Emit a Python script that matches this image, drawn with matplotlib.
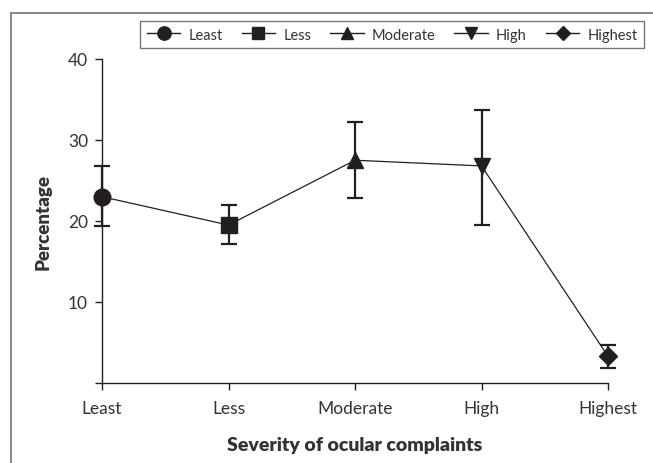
import matplotlib
matplotlib.use("Agg")
import matplotlib.pyplot as plt
from matplotlib.lines import Line2D

categories = ["Least", "Less", "Moderate", "High", "Highest"]
values = [23.0, 19.5, 27.5, 26.8, 3.3]
err_low = [19.4, 17.1, 22.8, 19.5, 1.9]
err_high = [26.8, 22.0, 32.2, 33.7, 4.7]
markers = ["o", "s", "^", "v", "D"]
msizes = [12, 11, 11, 11, 9]
yticks = [0, 10, 20, 30, 40]
ytick_labels = ["", "10", "20", "30", "40"]

plt.rcParams['font.family'] = ['Lato', 'DejaVu Sans']
ink = "#231f20"
txt = "#333333"

fig = plt.figure(figsize=(6.53, 4.64), dpi=100)
ax = fig.add_axes([102/653, 1-384/464, (608-102)/653, (384-60)/464])

x = list(range(len(categories)))
ax.plot(x, values, color=ink, lw=0.9, zorder=2)
for i in x:
    ax.errorbar([i], [values[i]],
                yerr=[[values[i]-err_low[i]], [err_high[i]-values[i]]],
                fmt=markers[i], color=ink, ms=msizes[i], elinewidth=1.6,
                capsize=6, capthick=1.6, zorder=3)

ax.set_xlim(0, 4)
ax.set_ylim(0, 40)
ax.set_xticks(x)
ax.set_xticklabels(categories, fontsize=12.5, color=txt)
ax.set_yticks(yticks)
ax.set_yticklabels(ytick_labels, fontsize=12.5, color=txt)
for s in ["top", "right"]:
    ax.spines[s].set_visible(False)
for s in ["left", "bottom"]:
    ax.spines[s].set_color(ink)
    ax.spines[s].set_linewidth(1.0)
ax.spines["left"].set_zorder(1)
ax.tick_params(axis="both", direction="out", length=5, width=1.0, color=ink)
ax.tick_params(axis="x", pad=7)
ax.tick_params(axis="y", pad=5)
for c in ax.get_children():
    try:
        c.set_clip_on(False)
    except Exception:
        pass

ax.set_ylabel("Percentage", fontsize=13.5, fontweight="heavy", color=txt, labelpad=12)
ax.set_xlabel("Severity of ocular complaints", fontsize=14, fontweight="heavy", color=txt, labelpad=15)

handles = [Line2D([0], [0], color=ink, lw=1.0, marker=m, ms=ms*0.8, markerfacecolor=ink,
                  markeredgecolor=ink) for m, ms in zip(markers, msizes)]
leg = fig.legend(handles, categories, loc="upper right", bbox_to_anchor=(644/653, 1-22/464),
                 ncol=5, fontsize=10.5, frameon=True, fancybox=False, handlelength=2.3,
                 handletextpad=0.55, columnspacing=1.3, borderpad=0.45, borderaxespad=0)
leg.get_frame().set_edgecolor("#555555")
leg.get_frame().set_linewidth(1.0)
for t in leg.get_texts():
    t.set_color(txt)

# partial border frame
fig.add_artist(Line2D([11/653, 1], [1-14/464, 1-14/464], transform=fig.transFigure, color="#888888", lw=1.4))
fig.add_artist(Line2D([11/653, 11/653], [0, 1-14/464], transform=fig.transFigure, color="#888888", lw=1.4))

fig.savefig("out.png", dpi=100)
